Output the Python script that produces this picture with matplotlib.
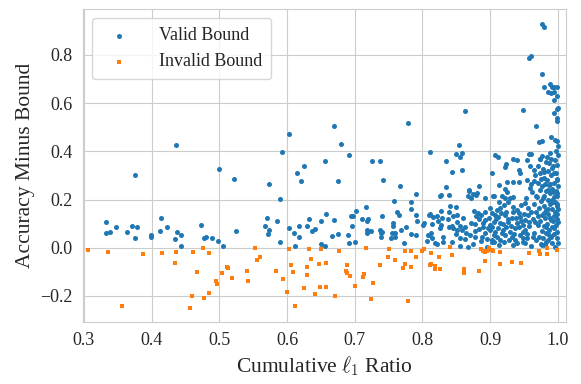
import numpy as np
import matplotlib
matplotlib.use('Agg')
import matplotlib.pyplot as plt
import seaborn as sns

# valid bound points (cumulative l1 ratio, accuracy - bound)
valid_x = [
    0.436, 0.375, 0.333, 0.333, 0.338, 0.347, 0.363, 0.371, 0.379, 0.376, 0.399, 0.399, 0.414, 0.413, 0.422, 0.435, 0.437, 0.444, 0.444, 0.473,
    0.603, 0.592, 0.500, 0.522, 0.573, 0.625, 0.615, 0.620, 0.590, 0.478, 0.480, 0.489, 0.498, 0.505, 0.524, 0.571, 0.585, 0.567, 0.573, 0.572,
    0.589, 0.603, 0.610, 0.617, 0.617, 0.612, 0.632, 0.630, 0.637, 0.641, 0.650,
    0.670, 0.680, 0.778, 0.692, 0.656, 0.725, 0.737, 0.675, 0.742, 0.767, 0.790, 0.758, 0.783, 0.811, 0.702, 0.717, 0.657, 0.670, 0.694, 0.698,
    0.696, 0.711, 0.719, 0.718, 0.740, 0.763, 0.765, 0.783, 0.791, 0.792, 0.757, 0.757, 0.776, 0.768, 0.718, 0.718, 0.724, 0.737, 0.739, 0.740,
    0.738, 0.755, 0.760, 0.754, 0.760, 0.783, 0.790, 0.801, 0.802, 0.809, 0.809, 0.690, 0.675, 0.667, 0.650, 0.656, 0.692, 0.700, 0.772, 0.806,
    0.863, 0.854, 0.850, 0.855, 0.858, 0.835, 0.843, 0.859, 0.902, 0.907, 0.835, 0.826, 0.828, 0.839, 0.868, 0.867, 0.871, 0.879, 0.884, 0.893,
    0.904, 0.840, 0.850, 0.827, 0.839, 0.811, 0.815, 0.822, 0.845, 0.851, 0.860, 0.876, 0.882, 0.887, 0.879, 0.829, 0.838, 0.823, 0.814, 0.828,
    0.839, 0.844, 0.851, 0.855, 0.863, 0.871, 0.878, 0.890, 0.893, 0.826, 0.845, 0.851, 0.858, 0.813, 0.850, 0.864, 0.870, 0.877, 0.884, 0.897,
    0.808, 0.814, 0.830, 0.855, 0.863, 0.878, 0.888, 0.819, 0.822, 0.831, 0.844, 0.855, 0.867, 0.875, 0.905,
    0.977, 0.980, 0.958, 0.961, 0.977, 0.980, 0.989, 0.992, 0.995, 0.998, 0.986, 0.990, 0.994, 0.999, 0.994, 0.948, 0.998, 1.000, 0.995, 0.967,
    0.999, 0.998, 0.990, 0.996, 0.999, 0.972, 0.977, 1.000, 0.960, 0.957,
    0.912, 0.924, 0.922, 0.934, 0.940, 0.942, 0.944, 0.955, 0.959, 0.964, 0.973, 0.934, 0.942, 0.925, 0.913, 0.954, 0.961, 0.959, 0.922, 0.925,
    0.868, 0.875, 0.880,
    0.905, 0.917, 0.922, 0.929, 0.934, 0.913, 0.920, 0.927, 0.910, 0.915, 0.924, 0.934, 0.939, 0.946, 0.952, 0.956,
    0.902, 0.907, 0.912, 0.922, 0.932, 0.944, 0.951, 0.905, 0.914, 0.927, 0.939, 0.949, 0.957,
    0.900, 0.907, 0.919, 0.929, 0.937, 0.949, 0.910, 0.922, 0.932, 0.944, 0.954, 0.902, 0.914, 0.937, 0.949, 0.934, 0.951, 0.902,
    0.884, 0.889, 0.892, 0.895, 0.898, 0.899, 0.887, 0.896, 0.893, 0.900, 0.903, 0.906, 0.909, 0.911, 0.913, 0.916, 0.917, 0.919, 0.921, 0.924,
    0.926, 0.928, 0.931, 0.933, 0.935, 0.938, 0.940, 0.942, 0.943, 0.946, 0.948, 0.950, 0.952, 0.953, 0.955, 0.956, 0.958, 0.960,
    0.962, 0.963, 0.964, 0.965, 0.966, 0.967, 0.968, 0.969, 0.970, 0.970, 0.971, 0.972, 0.972, 0.973, 0.974, 0.974, 0.975, 0.975, 0.976, 0.976,
    0.977, 0.977, 0.978, 0.978, 0.979, 0.979, 0.980, 0.980, 0.981, 0.981, 0.982, 0.982, 0.983, 0.983, 0.984, 0.984, 0.985, 0.985, 0.986, 0.986,
    0.987, 0.987, 0.988, 0.988, 0.989, 0.989, 0.990, 0.990, 0.991, 0.991, 0.992, 0.992, 0.993, 0.993, 0.994, 0.994, 0.995, 0.995, 0.996, 0.996,
    0.996, 0.997, 0.997, 0.997, 0.998, 0.998, 0.998, 0.999, 0.999, 0.999, 0.999, 1.000, 1.000, 1.000, 1.000, 1.000,
    0.973, 0.975, 0.978, 0.980, 0.982, 0.984, 0.986, 0.988, 0.990, 0.992, 0.994, 0.996, 0.998, 0.999, 0.976, 0.979, 0.983, 0.985, 0.987, 0.989,
    0.991, 0.993, 0.995, 0.997, 0.999, 0.981, 0.986, 0.990, 0.994, 0.998, 0.970, 0.967, 0.964, 0.961, 0.963, 0.966,
]
valid_y = [
    0.425, 0.300, 0.107, 0.060, 0.064, 0.085, 0.065, 0.090, 0.085, 0.042, 0.054, 0.046, 0.125, 0.068, 0.087, 0.037, 0.065, 0.051, 0.007, 0.094,
    0.472, 0.396, 0.325, 0.286, 0.264, 0.338, 0.311, 0.277, 0.202, 0.040, 0.044, 0.041, 0.027, 0.008, 0.068, 0.122, 0.110, 0.089, 0.073, 0.058,
    0.024, 0.080, 0.062, 0.090, 0.043, 0.007, 0.118, 0.089, 0.071, 0.079, 0.110,
    0.506, 0.430, 0.519, 0.385, 0.358, 0.360, 0.361, 0.276, 0.281, 0.256, 0.222, 0.194, 0.191, 0.397, 0.154, 0.168, 0.140, 0.116, 0.130, 0.133,
    0.091, 0.120, 0.120, 0.111, 0.132, 0.147, 0.134, 0.162, 0.137, 0.111, 0.102, 0.091, 0.085, 0.072, 0.073, 0.061, 0.069, 0.073, 0.062, 0.065,
    0.046, 0.062, 0.061, 0.041, 0.046, 0.058, 0.054, 0.095, 0.101, 0.136, 0.053, 0.054, 0.057, 0.047, 0.017, 0.007, 0.020, 0.022, 0.018, 0.027,
    0.567, 0.427, 0.388, 0.375, 0.393, 0.358, 0.313, 0.322, 0.309, 0.385, 0.251, 0.215, 0.218, 0.220, 0.239, 0.215, 0.205, 0.220, 0.257, 0.207,
    0.215, 0.173, 0.168, 0.152, 0.149, 0.140, 0.129, 0.132, 0.132, 0.134, 0.123, 0.151, 0.143, 0.136, 0.132, 0.123, 0.120, 0.112, 0.097, 0.093,
    0.087, 0.092, 0.108, 0.090, 0.088, 0.101, 0.100, 0.104, 0.115, 0.080, 0.080, 0.073, 0.075, 0.062, 0.058, 0.060, 0.052, 0.071, 0.079, 0.080,
    0.053, 0.040, 0.046, 0.040, 0.036, 0.045, 0.046, 0.020, 0.015, 0.022, 0.022, 0.007, 0.004, 0.015, 0.022,
    0.929, 0.917, 0.786, 0.794, 0.721, 0.666, 0.679, 0.665, 0.665, 0.665, 0.647, 0.642, 0.647, 0.629, 0.613, 0.571, 0.574, 0.581, 0.558, 0.506,
    0.537, 0.526, 0.461, 0.447, 0.443, 0.440, 0.444, 0.423, 0.389, 0.390,
    0.378, 0.347, 0.336, 0.368, 0.364, 0.322, 0.311, 0.364, 0.339, 0.322, 0.367, 0.273, 0.271, 0.273, 0.260, 0.281, 0.263, 0.246, 0.242, 0.232,
    0.235, 0.223, 0.226,
    0.215, 0.213, 0.205, 0.207, 0.212, 0.191, 0.177, 0.188, 0.156, 0.163, 0.149, 0.170, 0.156, 0.177, 0.184, 0.163,
    0.143, 0.136, 0.129, 0.136, 0.122, 0.129, 0.115, 0.108, 0.101, 0.108, 0.101, 0.094, 0.108,
    0.073, 0.066, 0.073, 0.066, 0.080, 0.066, 0.046, 0.053, 0.046, 0.053, 0.039, 0.032, 0.032, 0.032, 0.025, 0.011, 0.018, 0.025,
    0.118, 0.088, 0.062, 0.035, 0.125, 0.095, 0.028, 0.005, 0.150, 0.165, 0.088, 0.052, 0.118, 0.082, 0.012, 0.145, 0.060, 0.098, 0.025, 0.085,
    0.120, 0.030, 0.090, 0.150, 0.058, 0.125, 0.020, 0.145, 0.085, 0.110, 0.040, 0.140, 0.075, 0.205, 0.055, 0.135, 0.090, 0.008,
    0.230, 0.120, 0.180, 0.060, 0.300, 0.150, 0.030, 0.210, 0.095, 0.270, 0.340, 0.045, 0.165, 0.240, 0.110, 0.310, 0.015, 0.195, 0.070, 0.380,
    0.135, 0.255, 0.325, 0.040, 0.175, 0.090, 0.215, 0.290, 0.010, 0.125, 0.355, 0.060, 0.235, 0.155, 0.280, 0.100, 0.030, 0.200, 0.320, 0.140,
    0.075, 0.260, 0.180, 0.395, 0.050, 0.225, 0.115, 0.300, 0.160, 0.020, 0.245, 0.085, 0.340, 0.190, 0.130, 0.055, 0.270, 0.210, 0.005, 0.150,
    0.365, 0.095, 0.235, 0.310, 0.040, 0.175, 0.285, 0.120, 0.215, 0.345, 0.065, 0.160, 0.255, 0.385, 0.020, 0.105,
    0.370, 0.285, 0.205, 0.145, 0.085, 0.375, 0.240, 0.125, 0.045, 0.330, 0.230, 0.190, 0.140, 0.280, 0.010, 0.315, 0.025, 0.160, 0.350, 0.265,
    0.200, 0.110, 0.080, 0.400, 0.180, 0.265, 0.055, 0.370, 0.310, 0.225, 0.130, 0.215, 0.275, 0.150, 0.045, 0.105,
]

# invalid bound points
invalid_x = [
    0.306, 0.335, 0.387, 0.415, 0.436, 0.435, 0.461, 0.467, 0.460, 0.457, 0.356,
    0.476, 0.484, 0.495, 0.497, 0.484, 0.477, 0.504, 0.511, 0.512, 0.519, 0.541, 0.542, 0.553, 0.555, 0.560, 0.583, 0.594, 0.603, 0.606, 0.609,
    0.600, 0.611, 0.632, 0.635, 0.629, 0.630, 0.625, 0.641, 0.647, 0.648,
    0.650, 0.676, 0.657, 0.689, 0.687, 0.689, 0.693, 0.712, 0.714, 0.716, 0.727, 0.701, 0.658, 0.671, 0.724, 0.778, 0.737, 0.749, 0.750, 0.759,
    0.774, 0.783, 0.774, 0.771, 0.783, 0.791, 0.800, 0.802, 0.811,
    0.812, 0.824, 0.841, 0.844, 0.812, 0.819, 0.818, 0.826, 0.861, 0.861, 0.861, 0.884, 0.893, 0.886, 0.889, 0.893, 0.896, 0.898, 0.898, 0.902,
    0.904, 0.915, 0.915, 0.932, 0.946, 0.957, 0.972, 0.974, 0.984, 0.984, 0.999,
]
invalid_y = [
    -0.008, -0.019, -0.025, -0.021, -0.017, -0.063, -0.018, -0.102, -0.200, -0.250, -0.243,
    0.000, -0.021, -0.138, -0.151, -0.187, -0.207, -0.106, -0.080, -0.086, -0.124, -0.098, -0.137, 0.000, -0.052, -0.040, -0.098, -0.129, -0.004,
    -0.072, -0.100, -0.183, -0.241, -0.005, -0.048, -0.080, -0.113, -0.168, -0.191, -0.066, -0.164,
    -0.005, -0.012, -0.062, -0.072, -0.097, -0.105, -0.116, -0.123, -0.108, 0.000, -0.146, -0.158, -0.162, -0.200, -0.214, -0.221, -0.072, -0.040,
    -0.004, -0.052, -0.014, -0.014, -0.066, -0.086, -0.081, -0.039, -0.014, -0.004, -0.071,
    -0.023, -0.039, 0.003, -0.032, -0.069, -0.074, -0.088, -0.087, -0.088, -0.095, -0.105, -0.095, -0.054, -0.005, -0.012, -0.016, -0.015, -0.010,
    0.000, -0.010, -0.012, -0.018, -0.068, -0.061, -0.065, -0.021, -0.014, -0.027, -0.001, -0.027, -0.008,
]

sns.set_style('whitegrid')
plt.rcParams['font.family'] = ['Liberation Serif', 'DejaVu Serif']
plt.rcParams['mathtext.fontset'] = 'cm'

fig = plt.figure(figsize=(5.81, 3.84), dpi=100)
ax = fig.add_axes([0.1434, 0.1622, 0.8302, 0.8135])
ax.scatter(valid_x, valid_y, s=13, marker='o', color='#1f77b4', linewidths=0, label='Valid Bound')
ax.scatter(invalid_x, invalid_y, s=10, marker='s', color='#ff7f0e', linewidths=0, label='Invalid Bound')

ax.set_xlim(0.299, 1.0115)
ax.set_ylim(-0.307, 0.989)
ax.set_xticks(np.arange(0.3, 1.01, 0.1))
ax.set_yticks([-0.2, 0.0, 0.2, 0.4, 0.6, 0.8])
ax.tick_params(labelsize=13, pad=4)
ax.set_xlabel(r'Cumulative $\ell_1$ Ratio', fontsize=15.5)
ax.set_ylabel('Accuracy Minus Bound', fontsize=15.5)
ax.legend(loc='upper left', fontsize=13, frameon=True, borderpad=0.5, handletextpad=1.2)

fig.savefig('out.png', dpi=100)
